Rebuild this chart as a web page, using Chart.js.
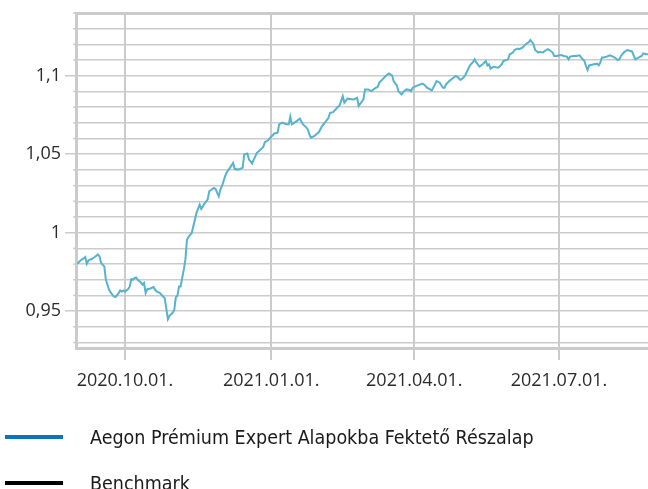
<!DOCTYPE html>
<html>
<head>
<meta charset="utf-8">
<script src="https://cdn.jsdelivr.net/npm/chart.js@4.4.1/dist/chart.umd.min.js"></script>
<style>
  html, body { margin: 0; padding: 0; background: #ffffff; }
  #wrap { position: relative; width: 648px; height: 489px; overflow: hidden; }
  #c { position: absolute; left: 0; top: 0; }
  #legend { position: absolute; left: 0; top: 414px; width: 648px; }
  .item { display: flex; align-items: center; height: 46px; }
  .swatch { display: inline-block; width: 58px; height: 4px; margin-left: 5px; }
  .label { margin-left: 27px; font-family: "DejaVu Sans Condensed", "Liberation Sans Narrow", sans-serif; font-size: 19.5px; color: #1a1a1a; white-space: nowrap; }
</style>
</head>
<body>
<div id="wrap">
  <canvas id="c" width="648" height="489"></canvas>
  <div id="legend"></div>
</div>
<script>
// ---- data (x = days since 2020-09-01) ----
const seriesNames = ["Aegon Prémium Expert Alapokba Fektető Részalap", "Benchmark"];
const days = [0,2,4,5,6,7,9,11,13,14,15,17,18,20,21,23,24,26,27,28,29,30,32,33,34,35,36,37,38,40,41,42,43,44,46,48,49,50,52,54,55,57,58,60,61,62,63,64,65,67,68,69,70,72,75,77,78,80,82,83,86,87,88,89,90,91,93,94,96,98,99,101,104,105,107,108,110,111,113,115,117,118,120,122,124,126,127,129,131,133,134,135,138,140,142,144,145,146,147,149,152,154,156,158,159,161,164,165,167,168,170,174,176,177,180,181,183,185,187,189,190,192,194,196,198,199,201,202,204,205,207,209,210,211,213,217,218,220,223,225,226,228,230,231,232,234,236,238,239,241,243,244,246,247,249,250,251,253,255,257,258,259,260,262,264,265,267,268,270,271,272,274,275,277,278,280,282,284,285,287,288,290,291,293,294,296,297,299,300,302,303,305,306,308,309,310,312,314,316,317,319,320,321,322,325,327,328,329,330,331,333,335,337,338,340,341,342,344,346,348,349,351,353,355,356,358,359];
const fundValues = [0.9802,0.9823,0.9836,0.9845,0.9802,0.9823,0.9832,0.9845,0.9861,0.9849,0.9807,0.9785,0.9700,0.9636,0.9619,0.9593,0.9589,0.9615,0.9632,0.9625,0.9632,0.9625,0.9640,0.9657,0.9704,0.9700,0.9711,0.9715,0.9700,0.9683,0.9668,0.9679,0.9615,0.9640,0.9644,0.9653,0.9636,0.9625,0.9615,0.9593,0.9583,0.9449,0.9470,0.9489,0.9508,0.9589,0.9598,0.9657,0.9657,0.9764,0.9828,0.9955,0.9973,0.9998,1.0126,1.0179,1.0151,1.0185,1.0211,1.0264,1.0285,1.0279,1.0254,1.0232,1.0275,1.0296,1.0360,1.0385,1.0413,1.0445,1.0407,1.0402,1.0413,1.0498,1.0504,1.0466,1.0441,1.0466,1.0509,1.0526,1.0547,1.0577,1.0589,1.0611,1.0632,1.0637,1.0690,1.0701,1.0693,1.0690,1.0739,1.0690,1.0711,1.0728,1.0690,1.0671,1.0658,1.0626,1.0605,1.0615,1.0641,1.0679,1.0704,1.0732,1.0764,1.0768,1.0803,1.0811,1.0870,1.0828,1.0854,1.0849,1.0860,1.0807,1.0849,1.0913,1.0913,1.0902,1.0918,1.0930,1.0956,1.0977,1.0998,1.1015,1.1003,1.0966,1.0939,1.0902,1.0881,1.0896,1.0913,1.0909,1.0902,1.0924,1.0934,1.0950,1.0945,1.0924,1.0907,1.0945,1.0966,1.0956,1.0924,1.0924,1.0945,1.0966,1.0982,1.0998,1.0994,1.0973,1.0988,1.1003,1.1045,1.1066,1.1088,1.1105,1.1084,1.1058,1.1073,1.1094,1.1066,1.1073,1.1045,1.1058,1.1052,1.1052,1.1073,1.1094,1.1100,1.1105,1.1137,1.1148,1.1164,1.1173,1.1169,1.1179,1.1201,1.1213,1.1228,1.1201,1.1164,1.1148,1.1152,1.1148,1.1158,1.1169,1.1164,1.1148,1.1126,1.1126,1.1130,1.1130,1.1126,1.1122,1.1105,1.1122,1.1126,1.1126,1.1130,1.1116,1.1094,1.1062,1.1036,1.1066,1.1073,1.1077,1.1066,1.1084,1.1116,1.1116,1.1122,1.1130,1.1122,1.1116,1.1100,1.1105,1.1126,1.1151,1.1164,1.1158,1.1154,1.1105,1.1116,1.1126,1.1143,1.1137,1.1137];
const benchmarkValues = [];
const xTickDays = [30, 122, 212, 303];
const xTickLabels = ["2020.10.01.", "2021.01.01.", "2021.04.01.", "2021.07.01."];
const yTickValues = [0.95, 1, 1.05, 1.1];
const yTickLabels = ["0,95", "1", "1,05", "1,1"];
const xMin = -0.8, xMax = 359;
const yMin = 0.9265, yMax = 1.14, yMinorStep = 0.01;

// ---- styles ----
const lineColor = "#56b3cd";
const legendColors = ["#0a74bd", "#000000"];
const gridColor = "#cbcbcb";
const textColor = "#2b2b2b";
const tickFont = { family: "'Open Sans', 'Noto Sans', sans-serif", size: 18 };

const isMajorY = v => yTickValues.some(t => Math.abs(t - v) < 1e-6);

const minorTickPlugin = {
  id: "minorTicks",
  afterDraw(chart) {
    const s = chart.scales.y, ctx = chart.ctx;
    ctx.save();
    ctx.strokeStyle = gridColor;
    ctx.lineWidth = 1.5;
    s.ticks.forEach(t => {
      if (isMajorY(t.value) || t.value <= yMin + 1e-6) return;
      const y = s.getPixelForValue(t.value);
      ctx.beginPath();
      ctx.moveTo(s.right - 3, y);
      ctx.lineTo(s.right, y);
      ctx.stroke();
    });
    ctx.restore();
  }
};

const chart = new Chart(document.getElementById("c"), {
  type: "line",
  data: {
    datasets: [
      { label: seriesNames[0], data: days.map((d, i) => ({ x: d, y: fundValues[i] })),
        borderColor: lineColor, borderWidth: 2, pointRadius: 0, tension: 0, fill: false },
      { label: seriesNames[1], data: benchmarkValues.map((v, i) => ({ x: days[i], y: v })),
        borderColor: legendColors[1], borderWidth: 2, pointRadius: 0, fill: false }
    ]
  },
  options: {
    responsive: false,
    animation: false,
    devicePixelRatio: 1,
    layout: { padding: { top: 13, right: 0, bottom: 89, left: 0 } },
    plugins: { legend: { display: false }, tooltip: { enabled: false } },
    scales: {
      x: {
        type: "linear", min: xMin, max: xMax,
        afterBuildTicks: s => { s.ticks = xTickDays.map(v => ({ value: v })); },
        afterFit: s => { s.height = 52; s.paddingLeft = 0; s.paddingRight = 0; },
        ticks: { autoSkip: false, maxRotation: 0, padding: 10, color: textColor, font: tickFont,
          callback: v => { const i = xTickDays.indexOf(v); return i >= 0 ? xTickLabels[i] : ""; } },
        grid: { color: gridColor, lineWidth: 2, tickLength: 12, tickColor: gridColor, tickWidth: 2 },
        border: { display: true, color: gridColor, width: 3 }
      },
      y: {
        type: "linear", min: yMin, max: yMax,
        afterBuildTicks: s => {
          const t = [{ value: yMin }];
          for (let k = Math.ceil(yMin / yMinorStep); k * yMinorStep <= yMax + 1e-9; k++) t.push({ value: +(k * yMinorStep).toFixed(4) });
          s.ticks = t;
        },
        afterFit: s => { s.width = 76; s.paddingTop = 0; s.paddingBottom = 0; },
        ticks: { autoSkip: false, padding: 4, color: textColor, font: tickFont,
          callback: v => { const i = yTickValues.findIndex(t => Math.abs(t - v) < 1e-6); return i >= 0 ? yTickLabels[i] : ""; } },
        grid: {
          color: gridColor,
          lineWidth: c => (c.tick && Math.abs(c.tick.value - yMax) < 1e-6) ? 3 : 1.5,
          tickLength: 11,
          tickWidth: 1.5,
          tickColor: c => (c.tick && isMajorY(c.tick.value)) ? gridColor : "rgba(0,0,0,0)"
        },
        border: { display: true, color: gridColor, width: 3 }
      }
    }
  },
  plugins: [minorTickPlugin]
});

// HTML legend built from the chart's datasets
const legend = document.getElementById("legend");
chart.data.datasets.forEach((ds, i) => {
  const item = document.createElement("div");
  item.className = "item";
  const sw = document.createElement("span");
  sw.className = "swatch";
  sw.style.background = legendColors[i];
  const lb = document.createElement("span");
  lb.className = "label";
  lb.textContent = ds.label;
  item.appendChild(sw);
  item.appendChild(lb);
  legend.appendChild(item);
});
</script>
</body>
</html>
